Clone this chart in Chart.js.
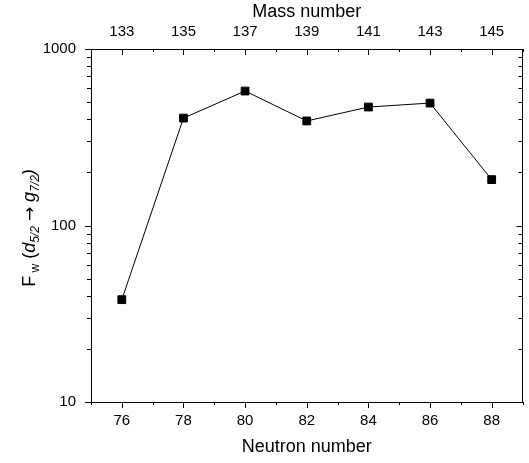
<!DOCTYPE html>
<html>
<head>
<meta charset="utf-8">
<script src="https://cdn.jsdelivr.net/npm/chart.js@4"></script>
<style>
  body { margin: 0; background: #fff; }
  canvas { display: block; }
</style>
</head>
<body>
<canvas id="myChart" width="529" height="463"></canvas>
<script>
const FONT = "'Liberation Sans', Arial, Helvetica, sans-serif";

// data
const neutronNumber = [76, 78, 80, 82, 84, 86, 88];
const fwValues = [38, 406, 578, 391, 469, 494, 182];

// tick labels
const neutronTicks = [76, 78, 80, 82, 84, 86, 88];
const massTicks = [133, 135, 137, 139, 141, 143, 145];
const yTicks = [10, 100, 1000];

// minor ticks
const neutronMinor = [75, 77, 79, 81, 83, 85, 87, 89];
const massMinor = [132, 134, 136, 138, 140, 142, 144, 146];
const yMinor = [20, 30, 40, 50, 60, 70, 80, 90, 200, 300, 400, 500, 600, 700, 800, 900];

// draws the small tick marks (inward on top/right, outward on bottom/left)
const tickMarks = {
  id: 'tickMarks',
  afterDraw(chart) {
    const ctx = chart.ctx;
    const a = chart.chartArea;
    const sx = chart.scales.x, sx2 = chart.scales.x2, sy = chart.scales.y;
    ctx.save();
    ctx.strokeStyle = '#000';
    ctx.lineWidth = 1;
    ctx.beginPath();
    function vtick(px, y0, len) {
      px = Math.round(px) + 0.5;
      ctx.moveTo(px, y0);
      ctx.lineTo(px, y0 + len);
    }
    function htick(py, x0, len) {
      py = Math.round(py) + 0.5;
      ctx.moveTo(x0, py);
      ctx.lineTo(x0 + len, py);
    }
    neutronTicks.forEach(v => vtick(sx.getPixelForValue(v), a.bottom, 6));
    neutronMinor.forEach(v => vtick(sx.getPixelForValue(v), a.bottom, 3));
    massTicks.forEach(v => vtick(sx2.getPixelForValue(v), a.top, 6));
    massMinor.forEach(v => vtick(sx2.getPixelForValue(v), a.top, 3));
    yTicks.forEach(v => {
      htick(sy.getPixelForValue(v), a.left, -6);
      htick(sy.getPixelForValue(v), a.right, -6);
    });
    yMinor.forEach(v => {
      htick(sy.getPixelForValue(v), a.left, -4);
      htick(sy.getPixelForValue(v), a.right, -4);
    });
    ctx.stroke();
    ctx.restore();
  }
};

// y axis title with subscripts: F_w (d_5/2 -> g_7/2)
const yTitle = {
  id: 'yTitle',
  afterDraw(chart) {
    const ctx = chart.ctx;
    const big = '18px ' + FONT;
    const bigIt = 'italic 18px ' + FONT;
    const sub = '12px ' + FONT;
    const subIt = 'italic 12px ' + FONT;
    const arrow = "17px 'DejaVu Sans', sans-serif";
    const parts = [
      { t: 'F', f: big, dy: 0 },
      { t: ' w', f: sub, dy: 4 },
      { t: ' (', f: big, dy: 0 },
      { t: 'd', f: bigIt, dy: 0 },
      { t: '5/2', f: subIt, dy: 4 },
      { t: ' ', f: big, dy: 0 },
      { t: '\u2192', f: arrow, dy: 0 },
      { t: ' ', f: big, dy: 0 },
      { t: 'g', f: bigIt, dy: 0 },
      { t: '7/2', f: subIt, dy: 4 },
      { t: ')', f: bigIt, dy: 0 }
    ];
    ctx.save();
    let total = 0;
    parts.forEach(p => { ctx.font = p.f; p.w = ctx.measureText(p.t).width; total += p.w; });
    ctx.translate(29, 228);
    ctx.rotate(-Math.PI / 2);
    ctx.fillStyle = '#000';
    ctx.textBaseline = 'alphabetic';
    ctx.textAlign = 'left';
    let x = -total / 2;
    parts.forEach(p => {
      ctx.font = p.f;
      ctx.fillText(p.t, x, 6 + p.dy);
      x += p.w;
    });
    ctx.restore();
  }
};

const tickFont = { family: FONT, size: 15 };
const titleFont = { family: FONT, size: 18 };
const border = { display: true, color: '#000', width: 1 };

new Chart(document.getElementById('myChart'), {
  type: 'line',
  data: {
    datasets: [{
      data: neutronNumber.map((n, i) => ({ x: n, y: fwValues[i] })),
      borderColor: '#000',
      borderWidth: 1,
      backgroundColor: '#000',
      pointStyle: 'rect',
      pointRadius: 5.5,
      pointBorderWidth: 1,
      pointBackgroundColor: '#000',
      pointBorderColor: '#000',
      tension: 0,
      xAxisID: 'x',
      yAxisID: 'y'
    }]
  },
  options: {
    responsive: false,
    animation: false,
    layout: { padding: 0 },
    plugins: {
      legend: { display: false },
      tooltip: { enabled: false }
    },
    scales: {
      x: {
        type: 'linear',
        position: 'bottom',
        min: 75,
        max: 89,
        afterBuildTicks: s => { s.ticks = neutronTicks.map(v => ({ value: v })); },
        afterFit: s => { s.height = 61; },
        grid: { display: false, drawTicks: false },
        border: border,
        ticks: { color: '#000', font: tickFont, padding: 10, maxRotation: 0 },
        title: { display: true, text: 'Neutron number', color: '#000', font: titleFont, padding: { top: 0, bottom: 5 } }
      },
      x2: {
        type: 'linear',
        position: 'top',
        min: 132,
        max: 146,
        afterBuildTicks: s => { s.ticks = massTicks.map(v => ({ value: v })); },
        afterFit: s => { s.height = 49; },
        grid: { display: false, drawTicks: false },
        border: border,
        ticks: { color: '#000', font: tickFont, padding: 8, maxRotation: 0 },
        title: { display: true, text: 'Mass number', color: '#000', font: titleFont, padding: { top: 1, bottom: 0 } }
      },
      y: {
        type: 'logarithmic',
        position: 'left',
        min: 10,
        max: 1000,
        afterBuildTicks: s => { s.ticks = yTicks.map(v => ({ value: v })); },
        afterFit: s => { s.width = 91; },
        grid: { display: false, drawTicks: false },
        border: border,
        ticks: { color: '#000', font: tickFont, padding: 15, callback: v => String(v) }
      },
      y2: {
        type: 'logarithmic',
        position: 'right',
        min: 10,
        max: 1000,
        afterFit: s => { s.width = 5; },
        grid: { display: false, drawTicks: false },
        border: border,
        ticks: { display: false }
      }
    }
  },
  plugins: [tickMarks, yTitle]
});
</script>
</body>
</html>
